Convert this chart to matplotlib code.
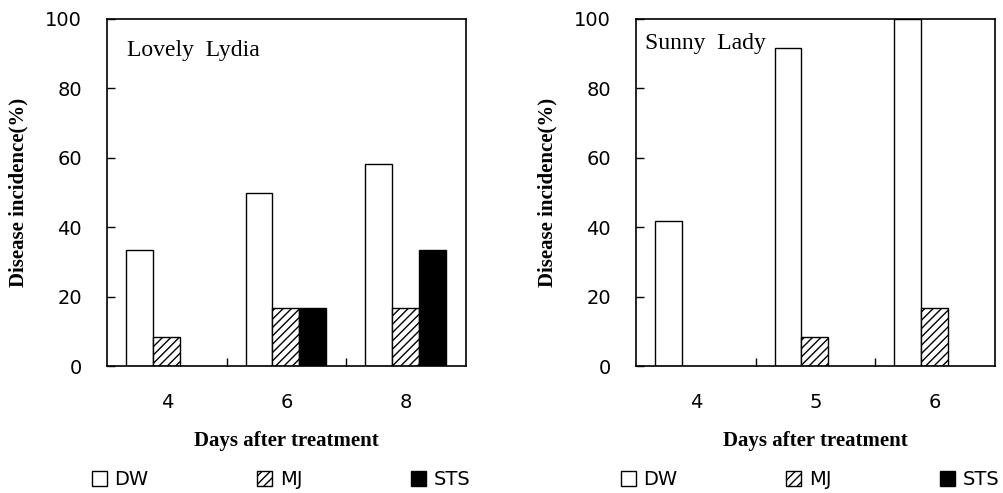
import numpy as np
import matplotlib.pyplot as plt
from matplotlib.patches import Patch

# Incidencia de enfermedad (%) por cultivar
series = ['DW', 'MJ', 'STS']

dias_lydia = ['4', '6', '8']
dw_lydia = [33.3, 50.0, 58.3]
mj_lydia = [8.3, 16.7, 16.7]
sts_lydia = [0.0, 16.7, 33.3]

dias_sunny = ['4', '5', '6']
dw_sunny = [41.7, 91.7, 100.0]
mj_sunny = [0.0, 8.3, 16.7]
sts_sunny = [0.0, 0.0, 0.0]

plt.rcParams['hatch.linewidth'] = 1.0
fuente_ejes = 'DejaVu Sans'
fuente_serif = 'Liberation Serif'

W, H = 1004, 493
fig = plt.figure(figsize=(W / 100, H / 100), dpi=100)

estilos = [dict(facecolor='white', edgecolor='black', hatch=None),
           dict(facecolor='white', edgecolor='black', hatch='////'),
           dict(facecolor='black', edgecolor='black', hatch=None)]


def panel(izq, dias, valores, nombre, nombre_xy):
    ax = fig.add_axes([izq / W, (H - 366) / H, 359 / W, 347 / H])
    x = np.arange(len(dias))
    ancho = 0.225
    for i, vals in enumerate(valores):
        # las barras con valor cero no se dibujan
        lw = [1.0 if v > 0 else 0.0 for v in vals]
        ax.bar(x + (i - 1) * ancho - 0.005, vals, width=ancho, linewidth=lw, **estilos[i])
    ax.set_xlim(-0.5, len(dias) - 0.5)
    ax.set_ylim(0, 100)
    ax.set_yticks([0, 20, 40, 60, 80, 100])
    # divisiones entre categorias
    ax.set_xticks([0.5, 1.5])
    ax.set_xticklabels([])
    ax.tick_params(axis='x', direction='in', length=6, width=1.0)
    ax.tick_params(axis='y', direction='in', length=6, width=1.0, pad=18,
                   labelsize=14)
    for lab in ax.get_yticklabels():
        lab.set_fontfamily(fuente_ejes)
    for xi, d in zip(x, dias):
        ax.text(xi, -10.5, d, ha='center', va='center', fontsize=14,
                fontfamily=fuente_ejes, clip_on=False)
    for s in ax.spines.values():
        s.set_linewidth(1.2)
    ax.set_ylabel('Disease incidence(%)', fontfamily=fuente_serif,
                  fontweight='bold', fontsize=15)
    ax.yaxis.set_label_coords(-0.22, 0.5)
    ax.text(0.5, -0.215, 'Days after treatment', transform=ax.transAxes,
            ha='center', va='center', fontfamily=fuente_serif,
            fontweight='bold', fontsize=15)
    ax.text(nombre_xy[0], nombre_xy[1], nombre, transform=ax.transAxes,
            ha='left', va='center', fontfamily=fuente_serif, fontsize=17)
    handles = [Patch(linewidth=1.0, **estilos[i]) for i in range(3)]
    ax.legend(handles, series, loc='center', ncol=3, frameon=False,
              bbox_to_anchor=(0.485, -0.328), bbox_transform=ax.transAxes,
              prop={'family': fuente_ejes, 'size': 14},
              handlelength=0.75, handleheight=0.75, handletextpad=0.4,
              columnspacing=5.6, borderaxespad=0)
    return ax


panel(107, dias_lydia, [dw_lydia, mj_lydia, sts_lydia], 'Lovely  Lydia', (0.055, 0.91))
panel(636, dias_sunny, [dw_sunny, mj_sunny, sts_sunny], 'Sunny  Lady', (0.025, 0.928))

plt.savefig('out.png', dpi=100)
